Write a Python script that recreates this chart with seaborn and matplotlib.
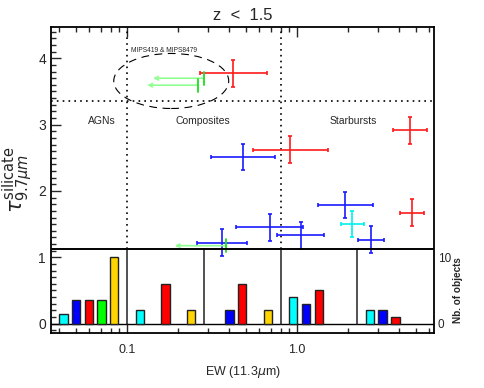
import numpy as np
import seaborn as sns
import matplotlib
matplotlib.use("Agg")
import matplotlib.pyplot as plt
from matplotlib.patches import Ellipse
from matplotlib.ticker import LogLocator, NullFormatter, MultipleLocator

# EW(11.3um) and silicate depth
blue_x = [0.483, 0.36, 0.69, 1.05, 1.92, 2.74]
blue_xlo = [0.31, 0.258, 0.438, 0.766, 1.335, 2.29]
blue_xhi = [0.745, 0.506, 1.08, 1.44, 2.79, 3.24]
blue_y = [2.51, 1.22, 1.45, 1.33, 1.785, 1.265]

red_x = [0.42, 0.91, 4.62, 4.75]
red_xlo = [0.269, 0.549, 3.69, 4.04]
red_xhi = [0.663, 1.515, 5.85, 5.61]
red_y = [3.775, 2.625, 2.915, 1.675]

cyan_x = [2.11]
cyan_xlo = [1.81]
cyan_xhi = [2.48]
cyan_y = [1.50]

# upper limits on EW
green_x = [0.285, 0.263, 0.382]
green_y = [3.70, 3.595, 1.175]

tau_err = 0.2

# histogram (fraction of objects, 10 objects = 1) per EW bin
bin_edges = [0.0357, 0.1, 0.284, 0.8, 2.25, 6.4]
hist_cyan = [0.15, 0.2, 0.0, 0.4, 0.2]
hist_blue = [0.35, 0.0, 0.2, 0.3, 0.2]
hist_red = [0.35, 0.6, 0.6, 0.5, 0.1]
hist_green = [0.35, 0.0, 0.0, 0.0, 0.0]
hist_yellow = [1.0, 0.2, 0.2, 0.0, 0.0]

sns.set_theme(style="ticks")
plt.rcParams['font.family'] = ['Liberation Sans', 'DejaVu Sans']
plt.rcParams['mathtext.fontset'] = 'dejavusans'

fig = plt.figure(figsize=(4.85, 3.88), dpi=100)
ax = fig.add_axes([0.105, 0.142, 0.79, 0.788])
ax.set_xscale('log')
ax.set_xlim(bin_edges[0], bin_edges[-1])
ax.set_ylim(-0.14, 4.47)

# error crosses
for xs, lo, hi, ys, col in [(blue_x, blue_xlo, blue_xhi, blue_y, '#1a1aff'),
                            (red_x, red_xlo, red_xhi, red_y, '#ff1a1a'),
                            (cyan_x, cyan_xlo, cyan_xhi, cyan_y, '#00f0f0')]:
    xs = np.array(xs)
    ax.errorbar(xs, ys, xerr=[xs - np.array(lo), np.array(hi) - xs], yerr=tau_err,
                fmt='none', ecolor=col, elinewidth=1.2, capsize=1.6, capthick=1.2, zorder=3)

# upper limits
for gx, gy in zip(green_x, green_y):
    ax.annotate('', xy=(gx / 2, gy), xytext=(gx, gy),
                arrowprops=dict(arrowstyle='->', color='#90ff90', lw=1.2,
                                mutation_scale=6, shrinkA=0, shrinkB=0), zorder=3)
    ax.plot([gx, gx], [gy - 0.1, gy + 0.1], color='#20dd20', lw=1.3, zorder=3)

# histogram bars
colors = ['#00ffff', '#0000ff', '#ff0000', '#00ff00', '#ffd400']
hists = [hist_cyan, hist_blue, hist_red, hist_green, hist_yellow]
for k in range(5):
    lo, hi = np.log10(bin_edges[k]), np.log10(bin_edges[k + 1])
    for i, (h, c) in enumerate(zip([hh[k] for hh in hists], colors)):
        if h <= 0:
            continue
        f = (i + 1) / 6
        left = 10 ** (lo + (f - 0.055) * (hi - lo))
        right = 10 ** (lo + (f + 0.055) * (hi - lo))
        ax.bar(left, h, width=right - left, align='edge', color=c,
               edgecolor='#222222', linewidth=1.0, zorder=2)

# panel lines
ax.axhline(1.13, color='black', lw=1.4, zorder=4)
ax.axhline(0, color='black', lw=1.0, zorder=1)
for e in bin_edges[1:-1]:
    ax.plot([e, e], [0, 1.13], color='#222222', lw=1.1, zorder=1)
ax.axhline(3.35, color='black', lw=1.2, ls=(0, (1, 2.5)), zorder=1)
for xv in [0.1, 0.8]:
    ax.plot([xv, xv], [1.13, 4.47], color='black', lw=1.2, ls=(0, (1, 2.5)), zorder=1)

ax.add_patch(Ellipse((0.314, 0.824), 0.30, 0.18, transform=ax.transAxes, fill=False,
                     ec='black', lw=0.8, ls=(0, (7, 5))))
ax.text(0.1056, 4.12, 'MIPS419 & MIPS8479', fontsize=4.8, ha='left', va='center')

ax.text(0.071, 3.05, 'AGNs', fontsize=7.5, ha='center', va='center')
ax.text(0.281, 3.05, 'Composites', fontsize=7.5, ha='center', va='center')
ax.text(2.14, 3.05, 'Starbursts', fontsize=7.5, ha='center', va='center')

# axes and ticks
ax.set_xticks([0.1, 1.0], ['0.1', '1.0'])
ax.xaxis.set_minor_locator(LogLocator(subs=np.arange(2, 10)))
ax.xaxis.set_minor_formatter(NullFormatter())
ax.set_yticks([0, 1, 2, 3, 4])
ax.yaxis.set_minor_locator(MultipleLocator(0.1))
ax.tick_params(which='both', direction='in', top=True, right=True, width=1.0, labelsize=10)
ax.tick_params(which='major', length=7)
ax.tick_params(which='minor', length=3.5)
ax.tick_params(axis='x', labelsize=9, pad=8)
for s in ax.spines.values():
    s.set_linewidth(1.3)
    s.set_color('black')

twin = ax.twinx()
twin.set_ylim(-1.4, 44.7)
twin.set_yticks([0, 10], ['0', '10'])
twin.tick_params(length=0, labelsize=8.5, pad=2.5)
for s in twin.spines.values():
    s.set_visible(False)
ax.text(1.063, 0.14, 'Nb. of objects', transform=ax.transAxes, rotation=90,
        fontsize=7.2, fontweight='bold', ha='center', va='center')

ax.set_title('z  <  1.5', fontsize=12, pad=5)
ax.set_xlabel(r'EW (11.3$\mu$m)', fontsize=9, labelpad=6)
ax.set_ylabel(r'$\tau^{\rm silicate}_{9.7\mu m}$', fontsize=15, labelpad=2)

fig.savefig('out.png', dpi=100)
